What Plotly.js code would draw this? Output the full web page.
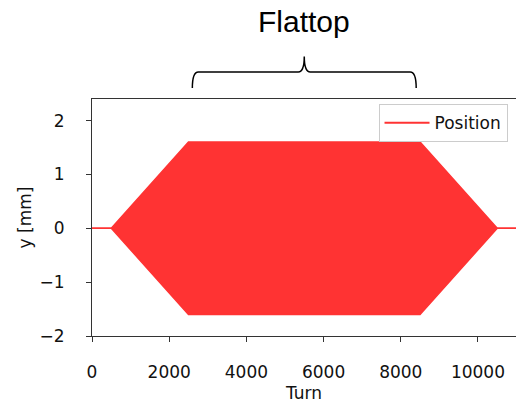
<!DOCTYPE html>
<html>
<head>
<meta charset="utf-8">
<script src="https://cdn.plot.ly/plotly-3.0.1.min.js"></script>
<style>html,body{margin:0;padding:0;background:#fff;}#chart{width:516px;height:404px;}</style>
</head>
<body>
<div id="chart"></div>
<script>
// Envelope breakpoints of the oscillating position signal
const turns = [0, 500, 2500, 8500, 10500, 11000];
const amplitude = [0, 0, 1.6, 1.6, 0, 0];
const seriesName = 'Position';
const flattopLabel = 'Flattop';
const flattopStart = 2600;
const flattopEnd = 8400;
const xTickVals = [0, 2000, 4000, 6000, 8000, 10000];
const xTickText = ['0', '2000', '4000', '6000', '8000', '10000'];
const yTickVals = [-2, -1, 0, 1, 2];
const yTickText = ['\u22122', '\u22121', '0', '1', '2'];

const red = '#ff3333';
const lower = amplitude.map(v => -v);

const traces = [
  {x: turns, y: lower, mode: 'lines', line: {color: red, width: 1.5}, showlegend: false, hoverinfo: 'skip'},
  {x: turns, y: amplitude, mode: 'lines', line: {color: red, width: 1.5}, fill: 'tonexty', fillcolor: red, showlegend: false, hoverinfo: 'skip'},
  {x: [null], y: [null], mode: 'lines', line: {color: red, width: 2}, name: seriesName, showlegend: true}
];

const yLow = 1.046, yMid = 1.114, yTip = 1.179, r = 155;
const c = (flattopStart + flattopEnd) / 2;
const bracePath = `M ${flattopStart},${yLow} Q ${flattopStart},${yMid} ${flattopStart + r},${yMid} L ${c - r},${yMid} Q ${c},${yMid} ${c},${yTip} Q ${c},${yMid} ${c + r},${yMid} L ${flattopEnd - r},${yMid} Q ${flattopEnd},${yMid} ${flattopEnd},${yLow}`;

const layout = {
  width: 516, height: 404,
  margin: {l: 92, r: 0, t: 99, b: 68},
  paper_bgcolor: '#fff', plot_bgcolor: '#fff',
  font: {family: 'DejaVu Sans', size: 17, color: '#111'},
  xaxis: {
    range: [0, 10986], tickvals: xTickVals, ticktext: xTickText,
    showgrid: false, zeroline: false, showline: true, mirror: true,
    linecolor: '#333', linewidth: 1, ticks: 'outside', ticklen: 5, tickcolor: '#333',
    ticklabelstandoff: 16,
    title: {text: 'Turn', font: {size: 17}, standoff: 5},
    tickfont: {size: 17}
  },
  yaxis: {
    range: [-2, 2.4], tickvals: yTickVals, ticktext: yTickText,
    showgrid: false, zeroline: false, showline: true,
    linecolor: '#333', linewidth: 1, ticks: 'outside', ticklen: 5, tickcolor: '#333',
    ticklabelstandoff: 18,
    title: {text: 'y [mm]', font: {size: 17}, standoff: 3},
    tickfont: {size: 17}
  },
  legend: {
    x: 0.98, y: 0.978, xanchor: 'right', yanchor: 'top',
    bgcolor: '#fff', bordercolor: '#ccc', borderwidth: 1,
    itemwidth: 45,
    font: {size: 17}
  },
  shapes: [{type: 'path', xref: 'x', yref: 'paper', path: bracePath, line: {color: '#000', width: 1.5}}],
  annotations: [{
    x: c, y: 1.325, xref: 'x', yref: 'paper', text: flattopLabel, showarrow: false,
    font: {family: 'Liberation Sans', size: 30, color: '#000'}, xanchor: 'center', yanchor: 'middle'
  }]
};

Plotly.newPlot('chart', traces, layout, {displayModeBar: false, staticPlot: true});
</script>
</body>
</html>
